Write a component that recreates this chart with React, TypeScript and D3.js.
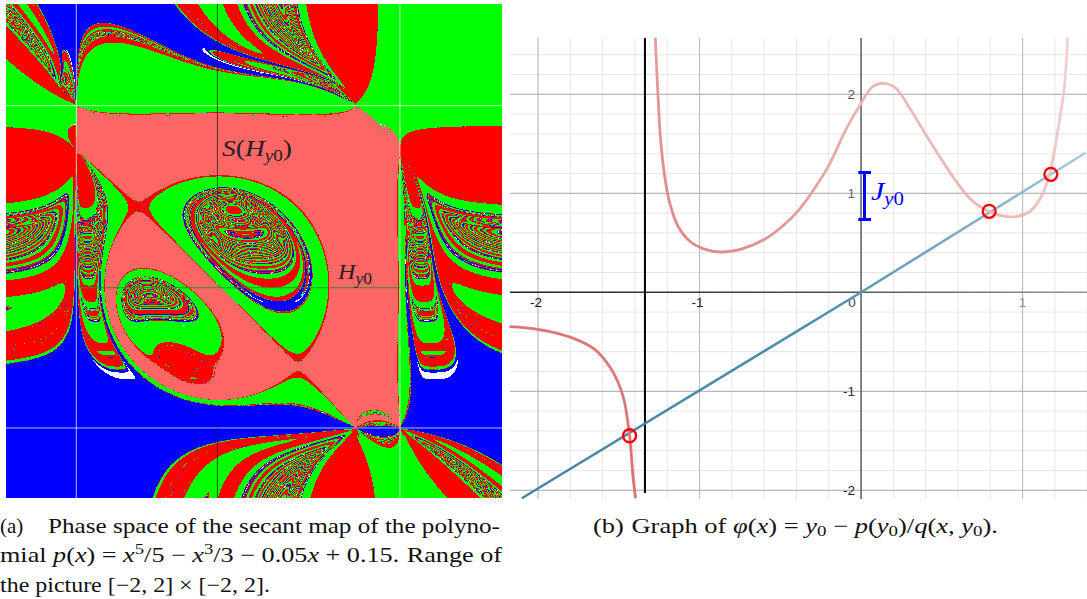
import React, { useMemo } from "react";
import * as d3 from "d3";

// Panel (a): polynomial printed in the caption, highest power first, and the picture's range
const polyCoefficients = [0.2, 0, -1 / 3, 0, -0.05, 0.15];
const phaseRange = [-2, 2];
const rootBrackets = [[-2, -1], [0.5, 0.95], [0.95, 1.5]];
const rootColors = ["#0000ff", "#ff0000", "#00ff00"];
const immediateColor = "#ff6666";
const unresolvedColor = "#ffffff";
const maxIterations = 90;
const immediateIterations = 8;
const neckCut = { xFrom: -1.433, xTo: -1.3, y: 0.79 };
const y0Value = -0.3;
const hiddenFrom = 0.41;

// Panel (b): values
const branchLeft: [number, number][] = [
  [-2.176, -0.346], [-2.0, -0.374], [-1.793, -0.458], [-1.649, -0.576], [-1.546, -0.778],
  [-1.474, -1.047], [-1.433, -1.452], [-1.412, -1.856], [-1.396, -2.08],
];
const branchRight: [number, number][] = [
  [-1.274, 2.573], [-1.258, 2.017], [-1.241, 1.545], [-1.216, 1.175], [-1.185, 0.906], [-1.134, 0.67],
  [-1.062, 0.518], [-0.98, 0.441], [-0.866, 0.407], [-0.732, 0.441], [-0.598, 0.535], [-0.485, 0.67],
  [-0.382, 0.838], [-0.278, 1.074], [-0.196, 1.293], [-0.093, 1.646], [0, 1.909], [0.072, 2.078],
  [0.144, 2.111], [0.216, 2.06], [0.299, 1.866], [0.381, 1.646], [0.484, 1.377], [0.587, 1.124],
  [0.69, 0.922], [0.793, 0.815], [0.876, 0.771], [0.959, 0.765], [1.041, 0.811], [1.113, 0.957],
  [1.164, 1.175], [1.195, 1.411], [1.226, 1.714], [1.257, 2.05], [1.279, 2.576],
];
const diagonalLine: [number, number][] = [[-2.1, -2.08], [0, 0], [1.39, 1.41]];
const fixedPoints: [number, number][] = [[-1.433, -1.449], [0.793, 0.818], [1.175, 1.192]];
const poleX = -1.338;
const intervalJ = [0.735, 1.21];
const xTicks = [-2, -1, 0, 1];
const yTicks = [-2, -1, 1, 2];
const xMinor = d3.range(-20, 15, 2).map((v) => v / 10);
const yMinor = d3.range(-20, 25, 2).map((v) => v / 10);

const SERIF = "'Liberation Serif', serif";
const SANS = "'Liberation Sans', Arial, sans-serif";

function p(x: number) {
  let r = 0;
  for (const c of polyCoefficients) r = r * x + c;
  return r;
}
function bisectRoot(a: number, b: number) {
  let fa = p(a);
  for (let i = 0; i < 80; i++) {
    const m = (a + b) / 2;
    const fm = p(m);
    if (fa * fm <= 0) b = m;
    else { a = m; fa = fm; }
  }
  return (a + b) / 2;
}

// returns root index, or 3 if the orbit has not reached a root; iteration count in iterOut[0]
const iterOut = [0];
function classify(x0: number, y0: number, roots: number[]) {
  let x = x0, y = y0, px = p(x), py = p(y);
  for (let i = 0; i < maxIterations; i++) {
    const d = py - px;
    if (d === 0) break;
    const z = y - (py * (y - x)) / d;
    x = y; px = py; y = z; py = p(y);
    for (let k = 0; k < 3; k++) if (Math.abs(y - roots[k]) < 1e-7) { iterOut[0] = i; return k; }
  }
  iterOut[0] = maxIterations;
  return 3;
}

function PhaseSpace() {
  const left = 6, right = 502, top = 4, bottom = 498;
  const xs = d3.scaleLinear().domain(phaseRange).range([left, right]);
  const ys = d3.scaleLinear().domain(phaseRange).range([bottom, top]);
  const paths = useMemo(() => {
    const roots = rootBrackets.map(([a, b]) => bisectRoot(a, b));
    const w = right - left, h = bottom - top;
    const cls = new Uint8Array(w * h);
    const fast = new Uint8Array(w * h);
    for (let j = 0; j < h; j++) {
      const yv = ys.invert(top + j + 0.5);
      for (let i = 0; i < w; i++) {
        const c = classify(xs.invert(left + i + 0.5), yv, roots);
        cls[j * w + i] = c;
        fast[j * w + i] = c === 1 && iterOut[0] <= immediateIterations ? 1 : 0;
      }
    }
    // the lines x = root and y = root of the outer roots bound the region
    const walls = [roots[0], roots[2]];
    for (const r of walls) {
      const col = Math.floor(xs(r)) - left, row = Math.floor(ys(r)) - top;
      for (let j = 0; j < h; j++) fast[j * w + col] = 0;
      for (let i = 0; i < w; i++) fast[row * w + i] = 0;
    }
    const cutRow = Math.floor(ys(neckCut.y)) - top;
    const cutFrom = Math.floor(xs(neckCut.xFrom)) - left + 1;
    const cutTo = Math.floor(xs(neckCut.xTo)) - left;
    for (let i = cutFrom; i <= cutTo; i++) fast[cutRow * w + i] = 0;
    // connected fast-converging region around the diagonal point (r, r) of the middle root
    const sx = Math.floor(xs(roots[1])) - left, sy = Math.floor(ys(roots[1])) - top;
    const stack = [sy * w + sx];
    while (stack.length) {
      const q = stack.pop() as number;
      if (q < 0 || q >= w * h || !fast[q] || cls[q] !== 1) continue;
      cls[q] = 4;
      const qx = q % w;
      if (qx > 0) stack.push(q - 1);
      if (qx < w - 1) stack.push(q + 1);
      stack.push(q - w, q + w);
    }
    // the cut itself belongs to the region above it
    for (let i = cutFrom; i <= cutTo; i++) {
      const q = cutRow * w + i;
      if (cls[q] === 1 && cls[q - w] === 4) cls[q] = 4;
    }
    const out: string[][] = [[], [], [], [], []];
    for (let j = 0; j < h; j++) {
      let runStart = 0, prev = cls[j * w];
      for (let i = 1; i <= w; i++) {
        const c = i < w ? cls[j * w + i] : 255;
        if (c !== prev) {
          out[prev].push(`M${left + runStart} ${top + j}h${i - runStart}v1h${runStart - i}z`);
          runStart = i; prev = c;
        }
      }
    }
    return out.map((o) => o.join(""));
  }, []);
  const colors = [...rootColors, unresolvedColor, immediateColor];
  const rootX = [-1.433, 1.177];
  return (
    <g>
      <defs>
        <filter id="soft" filterUnits="userSpaceOnUse" x={left} y={top} width={right - left} height={bottom - top} colorInterpolationFilters="sRGB">
          <feGaussianBlur stdDeviation={0.45} />
        </filter>
      </defs>
      <g filter="url(#soft)">
        {paths.map((d, i) => <path key={i} d={d} fill={colors[i]} shapeRendering="crispEdges" />)}
      </g>
      {rootX.map((v) => (
        <g key={v} stroke="#fff" strokeOpacity={0.72} strokeWidth={1}>
          <line x1={xs(v)} x2={xs(v)} y1={top} y2={bottom} />
          <line x1={left} x2={right} y1={ys(v)} y2={ys(v)} />
        </g>
      ))}
      <line x1={xs(y0Value) + 0.6} x2={xs(y0Value) + 0.6} y1={top} y2={ys(hiddenFrom)} stroke="#222" strokeOpacity={0.8} strokeWidth={1} />
      <line x1={xs(y0Value) + 0.6} x2={xs(y0Value) + 0.6} y1={ys(-1.433)} y2={bottom} stroke="#222" strokeOpacity={0.8} strokeWidth={1} />
      <line x1={xs(-1.433)} x2={xs(1.177)} y1={ys(y0Value) - 0.3} y2={ys(y0Value) - 0.3} stroke="#2e8b2e" strokeWidth={1} />
      <text x={222} y={156} textLength={70} lengthAdjust="spacingAndGlyphs" fontFamily={SERIF} fontSize={23} fill="#222" fontStyle="italic">
        S<tspan fontStyle="normal">(</tspan>H<tspan dy={5} fontSize={16}>y</tspan><tspan fontSize={16} fontStyle="normal">0</tspan><tspan dy={-5} fontStyle="normal">)</tspan>
      </text>
      <text x={338} y={279} textLength={34} lengthAdjust="spacingAndGlyphs" fontFamily={SERIF} fontSize={22} fill="#222" fontStyle="italic">
        H<tspan dy={5} fontSize={16}>y</tspan><tspan fontSize={16} fontStyle="normal">0</tspan>
      </text>
    </g>
  );
}

function GraphPanel() {
  const xs = d3.scaleLinear().domain([-2, 1]).range([538, 1022.6]);
  const ys = d3.scaleLinear().domain([-2, 2]).range([490.3, 94.3]);
  const left = 510, right = 1087, top = 38, bottom = 499;
  const curve = d3.line<[number, number]>().x((d) => xs(d[0])).y((d) => ys(d[1])).curve(d3.curveCatmullRom.alpha(0.5));
  const straight = d3.line<[number, number]>().x((d) => xs(d[0])).y((d) => ys(d[1]));
  const axisX = xs(0), axisY = ys(0);
  const ticksColorX = ["#111", "#222", "#444", "#888"];
  const ticksColorY = ["#222", "#333", "#666", "#555"];
  return (
    <g>
      <defs>
        <linearGradient id="fadeRed" gradientUnits="userSpaceOnUse" x1={560} y1={500} x2={1070} y2={40}>
          <stop offset="0" stopColor="#d96a6e" />
          <stop offset="0.4" stopColor="#e08a88" />
          <stop offset="0.75" stopColor="#ebb9b7" />
          <stop offset="1" stopColor="#f3d3d2" />
        </linearGradient>
        <linearGradient id="fadeBlue" gradientUnits="userSpaceOnUse" x1={560} y1={500} x2={1070} y2={40}>
          <stop offset="0" stopColor="#4585a5" />
          <stop offset="0.45" stopColor="#4d8cab" />
          <stop offset="0.75" stopColor="#86b4c9" />
          <stop offset="1" stopColor="#bcd8e3" />
        </linearGradient>
        <linearGradient id="fadeAxis" gradientUnits="userSpaceOnUse" x1={left} y1={0} x2={right} y2={0}>
          <stop offset="0" stopColor="#222" />
          <stop offset="0.6" stopColor="#555" />
          <stop offset="1" stopColor="#999" />
        </linearGradient>
      </defs>
      {xMinor.map((v) => <line key={v} x1={xs(v)} x2={xs(v)} y1={top} y2={bottom} stroke="#e6e6e6" strokeWidth={1} />)}
      {yMinor.map((v) => <line key={v} x1={left} x2={right} y1={ys(v)} y2={ys(v)} stroke="#e6e6e6" strokeWidth={1} />)}
      {xTicks.map((v) => <line key={v} x1={xs(v)} x2={xs(v)} y1={top} y2={bottom} stroke="#b9b9b9" strokeWidth={1} />)}
      {yTicks.map((v) => <line key={v} x1={left} x2={right} y1={ys(v)} y2={ys(v)} stroke="#adadad" strokeWidth={1} />)}
      <line x1={left} x2={right} y1={axisY} y2={axisY} stroke="url(#fadeAxis)" strokeWidth={1.5} />
      <line x1={axisX} x2={axisX} y1={top} y2={bottom} stroke="#666" strokeWidth={1.5} />
      <line x1={xs(poleX)} x2={xs(poleX)} y1={top} y2={493} stroke="#000" strokeWidth={2} />
      {xTicks.map((v, i) => (
        <text key={v} x={v === 0 ? xs(v) - 9 : v === 1 ? xs(v) : xs(v) - 2} y={axisY + 15} textAnchor="middle" fontFamily={SANS} fontSize={13.5} fill={ticksColorX[i]}>{v}</text>
      ))}
      {yTicks.map((v, i) => (
        <text key={v} x={axisX - 6} y={ys(v) + 4.5} textAnchor="end" fontFamily={SANS} fontSize={13.5} fill={ticksColorY[i]}>{v}</text>
      ))}
      <path d={straight(diagonalLine) ?? ""} fill="none" stroke="url(#fadeBlue)" strokeWidth={2.5} />
      <path d={curve(branchLeft) ?? ""} fill="none" stroke="url(#fadeRed)" strokeWidth={2.8} />
      <path d={curve(branchRight) ?? ""} fill="none" stroke="url(#fadeRed)" strokeWidth={2.8} />
      {fixedPoints.map((d, i) => <circle key={i} cx={xs(d[0])} cy={ys(d[1])} r={6.5} fill="none" stroke="#f00" strokeWidth={2.3} />)}
      <g stroke="#0000ff" strokeWidth={3}>
        <line x1={864.5} x2={864.5} y1={ys(intervalJ[1])} y2={ys(intervalJ[0])} />
        <line x1={858.3} x2={871} y1={ys(intervalJ[1])} y2={ys(intervalJ[1])} />
        <line x1={858.3} x2={871} y1={ys(intervalJ[0])} y2={ys(intervalJ[0])} />
      </g>
      <text x={871} y={200} textLength={33} lengthAdjust="spacingAndGlyphs" fontFamily={SERIF} fontSize={26} fill="#0000ff" fontStyle="italic">
        J<tspan dy={5} fontSize={18}>y</tspan><tspan fontSize={18} fontStyle="normal">0</tspan>
      </text>
    </g>
  );
}

function Captions() {
  const i = { fontStyle: "italic" as const };
  const sup = (s: string) => <tspan dy={-8} fontSize={15}>{s}</tspan>;
  const down = (s: string) => <tspan dy={8}>{s}</tspan>;
  const adj = { lengthAdjust: "spacingAndGlyphs" };
  return (
    <g fontFamily={SERIF} fontSize={21} fill="#111">
      <text x={0} y={533}>(a)</text>
      <text x={48} y={533} textLength={452} {...adj}>Phase space of the secant map of the polyno-</text>
      <text x={0} y={562} textLength={502} {...adj}>
        mial <tspan {...i}>p</tspan>(<tspan {...i}>x</tspan>) = <tspan {...i}>x</tspan>{sup("5")}{down("/5 − ")}<tspan {...i}>x</tspan>{sup("3")}{down("/3 − 0.05")}<tspan {...i}>x</tspan> + 0.15.<tspan dx={6}>Range of</tspan>
      </text>
      <text x={0} y={592} textLength={270} {...adj}>the picture [−2, 2] × [−2, 2].</text>
      <text x={593} y={533} textLength={405} {...adj}>
        (b)<tspan dx={6}>Graph of </tspan><tspan {...i}>φ</tspan>(<tspan {...i}>x</tspan>) = <tspan {...i}>y</tspan><tspan dy={3} fontSize={15}>0</tspan><tspan dy={-3}> − </tspan><tspan {...i}>p</tspan>(<tspan {...i}>y</tspan><tspan dy={3} fontSize={15}>0</tspan><tspan dy={-3}>)/</tspan><tspan {...i}>q</tspan>(<tspan {...i}>x, y</tspan><tspan dy={3} fontSize={15}>0</tspan><tspan dy={-3}>).</tspan>
      </text>
    </g>
  );
}

export default function App() {
  return (
    <svg width={1087} height={599} viewBox="0 0 1087 599" style={{ position: "absolute", left: 0, top: 0, display: "block", background: "#fff" }}>
      <PhaseSpace />
      <GraphPanel />
      <Captions />
    </svg>
  );
}
